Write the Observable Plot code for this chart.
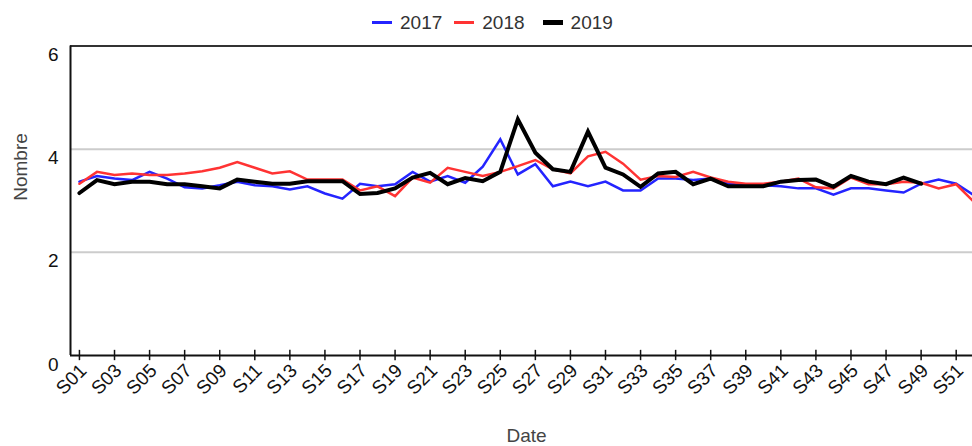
<!DOCTYPE html>
<html>
<head>
<meta charset="utf-8">
<script src="https://cdn.jsdelivr.net/npm/d3@7"></script>
<script src="https://cdn.jsdelivr.net/npm/@observablehq/plot@0.6"></script>
<style>
  html, body { margin: 0; padding: 0; background: #fff; overflow: hidden; }
  body { font-family: "Liberation Sans", Arial, sans-serif; width: 972px; height: 446px; }
  #legend { height: 40px; display: flex; justify-content: flex-start; align-items: center; padding-left: 372px; padding-top: 5px; box-sizing: border-box; font-size: 19px; color: #333; }
  .item { display: flex; align-items: center; margin-right: 12px; }
  .item.last { margin-left: 6px; }
  .sw { width: 20px; margin-right: 8px; }
  #chart svg { display: block; }
  #chart svg text { font-size: 19px; }
</style>
</head>
<body>
<div id="legend"></div>
<div id="chart"></div>
<script>
const series = ["2017", "2018", "2019"];
const colors = ["#2424ff", "#ff3333", "#000000"];
const widths = [2.5, 2.5, 4];

const v2017 = [3.37,3.48,3.43,3.40,3.56,3.43,3.26,3.24,3.30,3.37,3.30,3.28,3.22,3.28,3.14,3.04,3.33,3.28,3.32,3.56,3.37,3.48,3.35,3.66,4.19,3.51,3.71,3.28,3.37,3.28,3.37,3.20,3.20,3.43,3.43,3.40,3.43,3.33,3.30,3.30,3.28,3.24,3.24,3.12,3.24,3.24,3.20,3.16,3.33,3.41,3.33,3.11];
const v2018 = [3.33,3.56,3.50,3.53,3.50,3.50,3.53,3.57,3.64,3.75,3.64,3.53,3.57,3.41,3.41,3.41,3.20,3.28,3.09,3.45,3.35,3.64,3.56,3.48,3.56,3.67,3.79,3.61,3.53,3.86,3.95,3.72,3.41,3.48,3.46,3.56,3.45,3.37,3.33,3.33,3.37,3.43,3.26,3.24,3.45,3.32,3.32,3.37,3.35,3.24,3.32,2.98];
const v2019 = [3.15,3.40,3.32,3.37,3.37,3.32,3.32,3.28,3.24,3.41,3.37,3.33,3.33,3.38,3.38,3.38,3.13,3.15,3.24,3.45,3.54,3.32,3.44,3.38,3.56,4.58,3.93,3.61,3.56,4.34,3.64,3.51,3.27,3.53,3.56,3.32,3.43,3.28,3.28,3.28,3.37,3.40,3.41,3.27,3.48,3.37,3.32,3.45,3.33];

const tickLabels = ["S01","S03","S05","S07","S09","S11","S13","S15","S17","S19","S21","S23","S25","S27","S29","S31","S33","S35","S37","S39","S41","S43","S45","S47","S49","S51"];
const yTicks = [0, 2, 4, 6];
const xTitle = "Date";
const yTitle = "Nombre";

const tickWeeks = tickLabels.map(s => +s.slice(1));
const values = [v2017, v2018, v2019];
const data = values.flatMap((arr, i) => arr.map((v, j) => ({week: j + 1, value: v, year: series[i]})));

// legend
const legend = document.getElementById("legend");
series.forEach((s, i) => {
  const it = document.createElement("div");
  it.className = "item" + (i === 2 ? " last" : "");
  it.innerHTML = `<div class="sw" style="height:${i === 2 ? 5 : 3}px;background:${colors[i]}"></div><span>${s}</span>`;
  legend.appendChild(it);
});

const xDomain = [0.49, 51.93];

const chart = Plot.plot({
  width: 972,
  height: 406,
  marginTop: 5.5,
  marginBottom: 91,
  marginLeft: 70,
  marginRight: 0,
  style: {fontFamily: "Liberation Sans, Arial, sans-serif", fontSize: "19px", color: "#111", background: "#fff"},
  x: {type: "linear", domain: xDomain},
  y: {domain: [0, 6]},
  marks: [
    Plot.ruleY([2, 4], {stroke: "#cccccc", strokeWidth: 2}),
    Plot.ruleY([6], {stroke: "#333", strokeWidth: 2}),
    ...series.map((s, i) => Plot.line(data.filter(d => d.year === s), {
      x: "week", y: "value", stroke: colors[i], strokeWidth: widths[i], strokeLinejoin: "miter", strokeMiterlimit: 4
    })),
    Plot.ruleX([xDomain[0]], {stroke: "#111", strokeWidth: 2}),
    Plot.ruleY([0], {stroke: "#111", strokeWidth: 2}),
    Plot.ruleX(tickWeeks, {x: d => d, y1: -0.1, y2: 0.1, stroke: "#111", strokeWidth: 1.5}),
    Plot.axisX({ticks: tickWeeks, tickFormat: d => tickLabels[tickWeeks.indexOf(d)], tickRotate: -45, tickSize: 0, tickPadding: 12, dx: 4, label: null}),
    Plot.axisY({ticks: yTicks, tickFormat: d => String(d), tickSize: 0, tickPadding: 12, dy: 9, label: null}),
    Plot.text([xTitle], {frameAnchor: "bottom", dx: 5, dy: 86, fill: "#444"}),
    Plot.text([yTitle], {frameAnchor: "left", dx: -49.5, rotate: -90, fill: "#444"})
  ]
});
document.getElementById("chart").appendChild(chart);
</script>
</body>
</html>
